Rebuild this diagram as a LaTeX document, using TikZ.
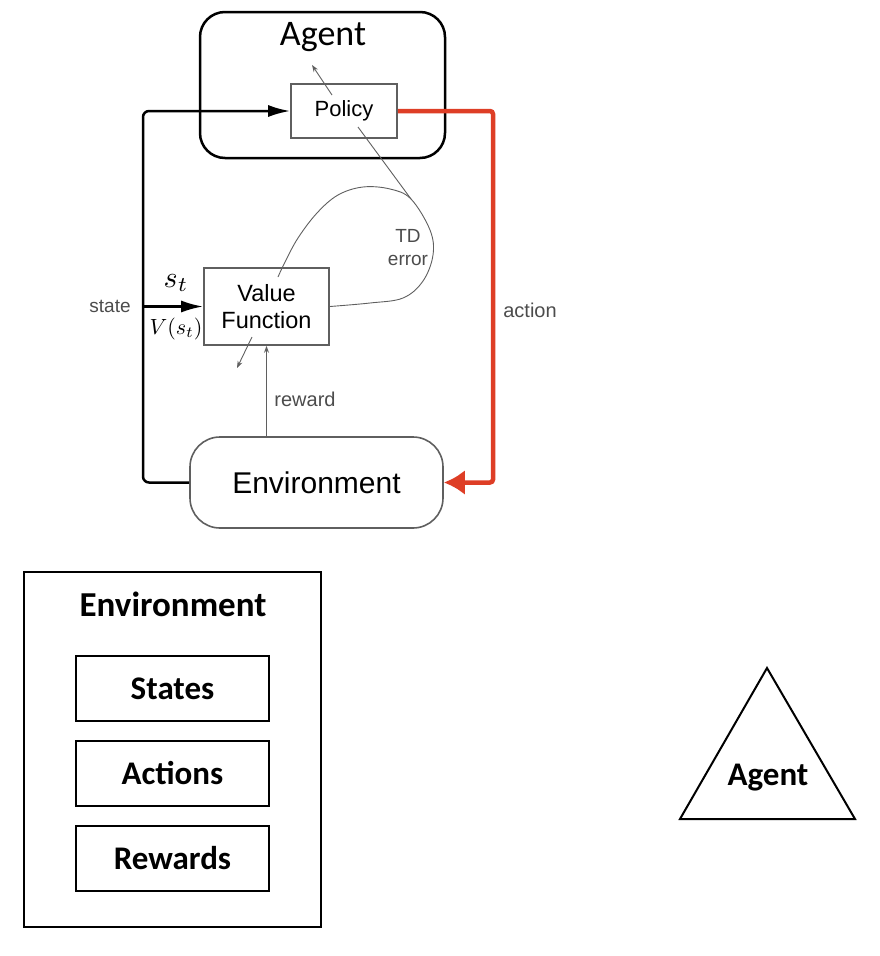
\documentclass[tikz,border=0pt]{standalone}
\usepackage{fontspec}
\setmainfont{Liberation Sans}
\newfontfamily\calfont{Carlito}
\usetikzlibrary{arrows.meta,calc}
\definecolor{actred}{RGB}{222,62,38}
\definecolor{boxgray}{RGB}{95,95,95}
\begin{document}
\begin{tikzpicture}[x=1pt,y=-1pt,
  fs/.style={font=\fontsize{#1}{#1}\selectfont},
  graybox/.style={draw=boxgray, line width=1.6pt, inner sep=0pt, align=center},
  thickarrow/.style={line width=2.5pt, rounded corners=6pt, -{Latex[length=22pt,width=12pt]}},
  redarrow/.style={draw=actred, line width=4.5pt, -{Latex[length=21pt,width=25pt]}},
  thinarrow/.style={draw=boxgray, line width=0.9pt, -{Stealth[length=7pt,width=5pt]}},
  thinline/.style={draw=boxgray, line width=0.9pt},
  lbl/.style={text=boxgray!80!black, inner sep=0pt},
  ebox/.style={draw=black, line width=2pt, minimum width=193pt, minimum height=65pt, inner sep=0pt,
     font=\calfont\bfseries\fontsize{33}{38}\selectfont}
]
\useasboundingbox (0,0) rectangle (879,956);

% ---- upper diagram ----
\node[graybox, minimum width=106pt, minimum height=54pt, fs=22] (pol) at (344,111) {Policy};
\node[graybox, minimum width=125pt, minimum height=77pt, font=\fontsize{23.5}{27}\selectfont] (vf) at (266.5,306.5) {Value\\Function};
\node[graybox, rounded corners=30pt, minimum width=253pt, minimum height=91pt, fs=30] (env) at (316.5,482.5) {Environment};

\node[draw=black, line width=2.5pt, rounded corners=25pt, minimum width=245pt, minimum height=146pt, inner sep=0pt] (agbox) at (322.5,85) {};
\node[font=\calfont\fontsize{36}{40}\selectfont, inner sep=0pt] (agtxt) at (323,37) {Agent};

% state loop
\coordinate (sx) at (143,306.5);
\draw[thickarrow] (env.west) -| (sx) |- (pol.west);
\draw[thickarrow] (sx) -- (vf.west);

% action (red)
\coordinate (ax) at (493,300);
\draw[redarrow, rounded corners=3pt] (pol.east) -| (ax) |- (env.east);

% reward
\draw[thinarrow] (env.north -| vf.south) -- (vf.south);

% small arrows
\coordinate (pa) at (332,95);
\coordinate (pb) at (312,65);
\draw[thinarrow] (pa) -- (pb);
\coordinate (va) at (252,337);
\coordinate (vb) at (237,368);
\draw[thinarrow] (va) -- (vb);

% TD error loop
\coordinate (tdj) at (411,199);
\coordinate (pt) at (358,127);
\draw[thinline] (pt) -- (tdj);
\draw[thinline] plot[smooth, tension=0.6] coordinates {(vf.east) (370,303) (403,298) (423,281) (433,255) (430,230) (411,199) (390,189) (363,187) (338,195) (317,213) (298,238) (285,262) (278,277)};

% labels
\node[lbl, font=\fontsize{19}{23}\selectfont, align=center] (td) at (408,248) {TD\\error};
\node[lbl, fs=19] (st) at (110,306) {state};
\node[lbl, fs=20] (ac) at (530,310) {action};
\node[lbl, fs=20] (rw) at (305,399) {reward};
\node[inner sep=0pt, scale=3] (s_t) at (176,283) {$s_t$};
\node[inner sep=0pt, scale=2.2] (v_t) at (176,329) {$V(s_t)$};

% ---- lower left ----
\node[draw=black, line width=1.6pt, minimum width=297pt, minimum height=355pt, inner sep=0pt] (envbox) at (172.5,749.5) {};
\node[font=\calfont\bfseries\fontsize{35}{40}\selectfont, inner sep=0pt] (envt) at (173,604) {Environment};
\node[ebox] (states) at (172.5,688.5) {States};
\node[ebox] (actions) at (172.5,773.5) {Actions};
\node[ebox] (rewards) at (172.5,858.5) {Rewards};

% ---- triangle agent ----
\coordinate (ta) at (767,668);
\coordinate (tl) at (680,819);
\coordinate (tr) at (855,819);
\draw[line width=2pt, line join=miter] (ta) -- (tl) -- (tr) -- cycle;
\node[font=\calfont\bfseries\fontsize{33}{38}\selectfont, inner sep=0pt] (tagent) at (768,778) {Agent};
\end{tikzpicture}
\end{document}
